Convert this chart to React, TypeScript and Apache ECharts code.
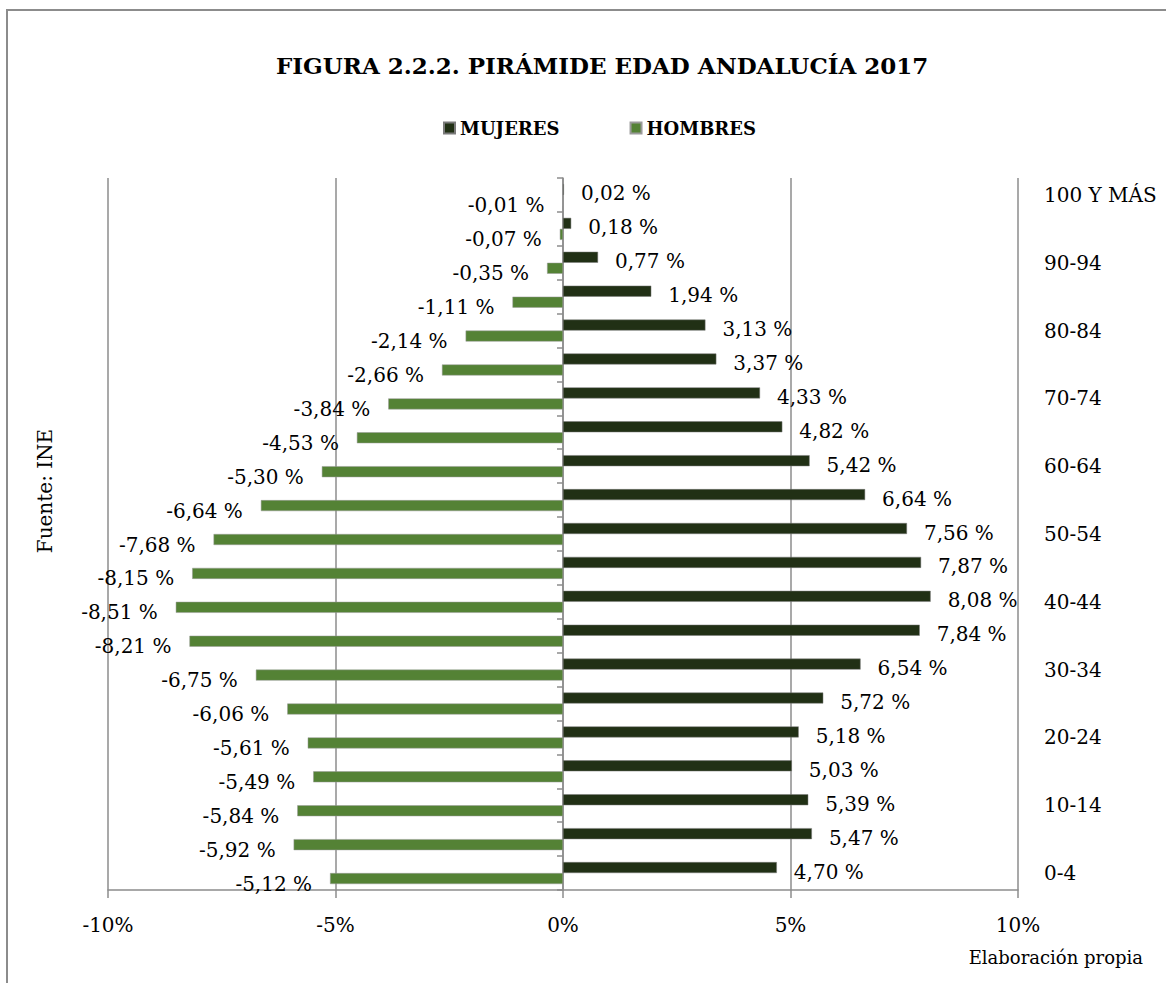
import React, { useEffect, useRef } from "react";
import * as echarts from "echarts";

const categories = [
  "0-4", "5-9", "10-14", "15-19", "20-24", "25-29", "30-34", "35-39", "40-44", "45-49",
  "50-54", "55-59", "60-64", "65-69", "70-74", "75-79", "80-84", "85-89", "90-94", "95-99", "100 Y MÁS",
];
const mujeres = [4.70, 5.47, 5.39, 5.03, 5.18, 5.72, 6.54, 7.84, 8.08, 7.87, 7.56, 6.64, 5.42, 4.82, 4.33, 3.37, 3.13, 1.94, 0.77, 0.18, 0.02];
const hombres = [-5.12, -5.92, -5.84, -5.49, -5.61, -6.06, -6.75, -8.21, -8.51, -8.15, -7.68, -6.64, -5.30, -4.53, -3.84, -2.66, -2.14, -1.11, -0.35, -0.07, -0.01];
const xTicks = [-10, -5, 0, 5, 10];

const FONT = "DejaVu Serif";
const fmt = (v: number) => v.toFixed(2).replace(".", ",") + " %";

export default function App() {
  const ref = useRef<HTMLDivElement>(null);
  useEffect(() => {
    if (!ref.current) return;
    const chart = echarts.init(ref.current, null, { renderer: "svg" });
    chart.setOption({
      animation: false,
      backgroundColor: "#ffffff",
      title: {
        text: "FIGURA 2.2.2. PIRÁMIDE EDAD ANDALUCÍA 2017",
        left: 271,
        top: 49,
        textStyle: { fontFamily: FONT, fontWeight: "bold", fontSize: 23, color: "#000" },
      },
      legend: {
        data: ["MUJERES", "HOMBRES"],
        left: 438,
        top: 114,
        itemWidth: 11,
        itemHeight: 11,
        itemGap: 70,
        icon: "rect",
        textStyle: { fontFamily: FONT, fontWeight: "bold", fontSize: 18, color: "#000" },
      },
      grid: { left: 108, right: 148, top: 178, bottom: 93, containLabel: false },
      xAxis: {
        type: "value",
        min: xTicks[0],
        max: xTicks[xTicks.length - 1],
        interval: 5,
        axisLine: { show: true, onZero: false, lineStyle: { color: "#8c8c8c", width: 1.5 } },
        axisTick: { show: true, length: 8, lineStyle: { color: "#8c8c8c", width: 1.5 } },
        splitLine: { show: true, lineStyle: { color: "#8c8c8c", width: 1.5 } },
        axisLabel: {
          formatter: (v: number) => `${v}%`,
          fontFamily: FONT,
          fontSize: 20,
          color: "#000",
          margin: 25,
        },
      },
      yAxis: [
        {
          type: "category",
          data: categories,
          position: "left",
          axisLine: { show: true, onZero: true, lineStyle: { color: "#8c8c8c", width: 1.5 } },
          axisTick: { show: true, length: 6, lineStyle: { color: "#8c8c8c", width: 1.5 } },
          axisLabel: { show: false },
          splitLine: { show: false },
        },
        {
          type: "category",
          data: categories,
          position: "right",
          axisLine: { show: false },
          axisTick: { show: false },
          axisLabel: {
            show: true,
            interval: 1,
            margin: 26,
            align: "left",
            fontFamily: FONT,
            fontSize: 20,
            color: "#000",
          },
          splitLine: { show: false },
        },
      ],
      series: [
        {
          name: "MUJERES",
          type: "bar",
          data: mujeres,
          barWidth: 11,
          barGap: "0%",
          itemStyle: { color: "#213015", borderColor: "#7a7a7a", borderWidth: 0.5 },
          label: {
            show: true,
            position: "right",
            distance: 17,
            offset: [0, 4],
            formatter: (p: any) => fmt(p.value),
            fontFamily: FONT,
            fontSize: 20,
            color: "#000",
          },
        },
        {
          name: "HOMBRES",
          type: "bar",
          data: hombres,
          barWidth: 11,
          barGap: "0%",
          itemStyle: { color: "#548235", borderColor: "#9a9a9a", borderWidth: 0.5 },
          label: {
            show: true,
            position: "left",
            distance: 18,
            offset: [0, 5],
            formatter: (p: any) => fmt(p.value),
            fontFamily: FONT,
            fontSize: 20,
            color: "#000",
          },
        },
      ],
      graphic: [
        {
          type: "rect",
          shape: { x: 7, y: 10, width: 1400, height: 1200 },
          style: { fill: "none", stroke: "#8c8c8c", lineWidth: 2 },
          silent: true,
        },
        {
          type: "text",
          x: 45,
          y: 491,
          rotation: Math.PI / 2,
          style: {
            text: "Fuente: INE",
            fontFamily: FONT,
            fontSize: 20,
            fill: "#000",
            align: "center",
            verticalAlign: "middle",
          },
        },
        {
          type: "text",
          x: 1143,
          y: 957,
          style: {
            text: "Elaboración propia",
            fontFamily: FONT,
            fontSize: 18,
            fill: "#000",
            align: "right",
            verticalAlign: "middle",
          },
        },
      ],
    });
    return () => chart.dispose();
  }, []);
  return (
    <div
      ref={ref}
      style={{ position: "absolute", left: 0, top: 0, width: 1166, height: 983, background: "#fff" }}
    />
  );
}
